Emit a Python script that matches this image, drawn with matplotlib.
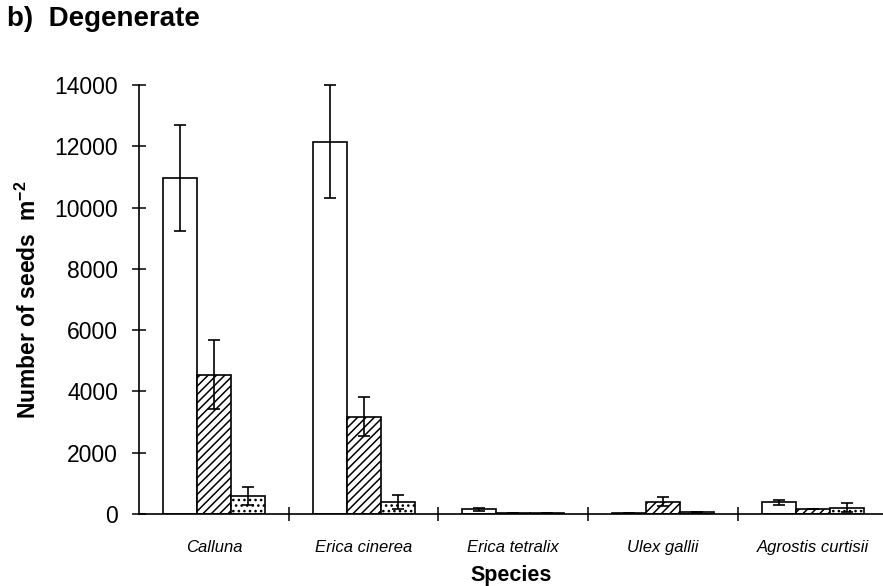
import matplotlib
matplotlib.use("Agg")
import matplotlib.pyplot as plt
import numpy as np

plt.rcParams['font.family'] = ['Liberation Sans', 'DejaVu Sans']
plt.rcParams['mathtext.fontset'] = 'custom'
plt.rcParams['mathtext.rm'] = 'Liberation Sans:bold'
plt.rcParams['mathtext.bf'] = 'Liberation Sans:bold'
plt.rcParams['hatch.linewidth'] = 1.1

# data (seeds per m2)
species = ['Calluna', 'Erica cinerea', 'Erica tetralix', 'Ulex gallii', 'Agrostis curtisii']
white_vals = [10950, 12150, 150, 40, 380]
white_err = [1730, 1840, 60, 0, 90]
hatch_vals = [4550, 3170, 30, 400, 150]
hatch_err = [1130, 640, 0, 140, 0]
dot_vals = [600, 390, 30, 60, 200]
dot_err = [290, 230, 0, 0, 150]
yticks = [0, 2000, 4000, 6000, 8000, 10000, 12000, 14000]

fig = plt.figure(figsize=(8.83, 5.86), dpi=100)
ax = fig.add_axes([139/883, 72/586, 1 - 139/883, (514-85)/586])

x = np.arange(len(species)) + 0.5
w = 0.227
series = [(white_vals, white_err, ''), (hatch_vals, hatch_err, '////'), (dot_vals, dot_err, '...')]
for i, (vals, err, h) in enumerate(series):
    pos = x + (i - 1) * w
    ax.bar(pos, vals, w, color='white', edgecolor='black', linewidth=1.2, hatch=h, zorder=2)
    ax.errorbar(pos, vals, yerr=err, fmt='none', ecolor='black', elinewidth=1.2,
                capsize=4, capthick=1.2, zorder=3, clip_on=False)

ax.set_xlim(0, 4.97)
ax.set_ylim(0, 14000)
ax.set_yticks(yticks)
ax.set_yticklabels([str(v) for v in yticks], fontsize=16.5)
ax.set_xticks([1, 2, 3, 4])
ax.set_xticklabels([])
ax.set_xticks(x, minor=True)
ax.set_xticklabels(species, minor=True, fontsize=12, style='italic')
ax.tick_params(axis='x', which='minor', length=0, pad=19)
ax.tick_params(axis='both', which='major', direction='inout', length=10, width=1.1)
ax.tick_params(axis='y', pad=10)

for s in ['top', 'right']:
    ax.spines[s].set_visible(False)
for s in ['left', 'bottom']:
    ax.spines[s].set_linewidth(1.2)

ax.set_ylabel('Number of seeds  m$^{-2}$', fontsize=16.5, fontweight='bold', labelpad=10)
ax.set_xlabel('Species', fontsize=15.5, fontweight='bold', labelpad=7)
fig.text(0.008, 0.968, 'b)  Degenerate', fontsize=20, fontweight='bold', va='center')

fig.savefig('out.png', dpi=100)
